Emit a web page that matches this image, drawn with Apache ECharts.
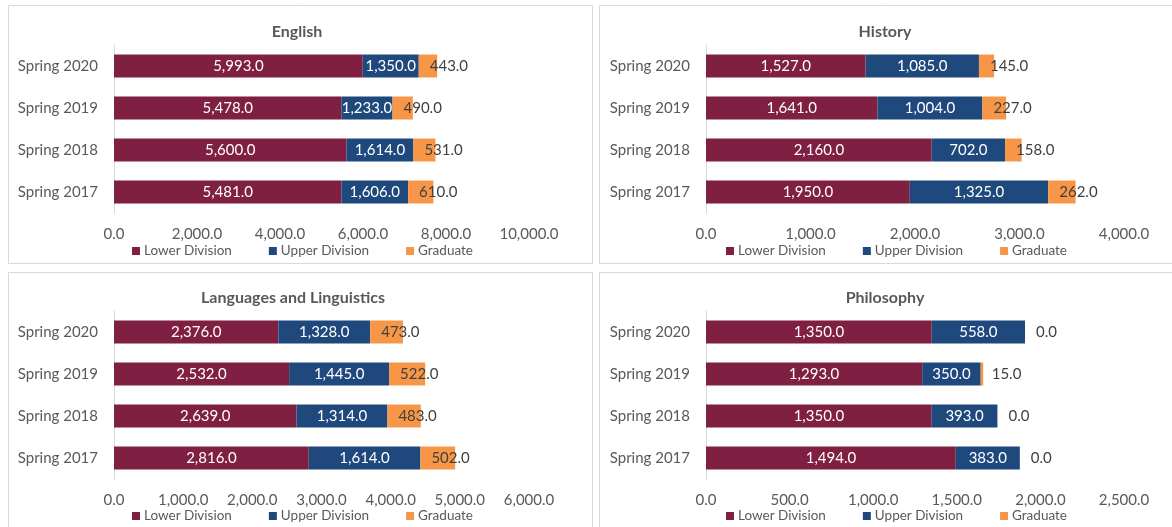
<!DOCTYPE html>
<html>
<head>
<meta charset="utf-8">
<script src="https://cdn.jsdelivr.net/npm/echarts@6/dist/echarts.min.js"></script>
<style>
  html, body { margin: 0; padding: 0; background: #ffffff; }
  #chart { width: 1172px; height: 527px; }
</style>
</head>
<body>
<div id="chart"></div>
<script>
// Enrollment by level, Spring 2017 - Spring 2020 (bottom to top)
const terms = ['Spring 2017', 'Spring 2018', 'Spring 2019', 'Spring 2020'];
const levels = ['Lower Division', 'Upper Division', 'Graduate'];

const englishLower = [5481, 5600, 5478, 5993];
const englishUpper = [1606, 1614, 1233, 1350];
const englishGrad  = [610, 531, 490, 443];

const historyLower = [1950, 2160, 1641, 1527];
const historyUpper = [1325, 702, 1004, 1085];
const historyGrad  = [262, 158, 227, 145];

const langLower = [2816, 2639, 2532, 2376];
const langUpper = [1614, 1314, 1445, 1328];
const langGrad  = [502, 483, 522, 473];

const philLower = [1494, 1350, 1293, 1350];
const philUpper = [383, 393, 350, 558];
const philGrad  = [0, 0, 15, 0];

const titles = ['English', 'History', 'Languages and Linguistics', 'Philosophy'];
const axisMax = [10000, 4000, 6000, 2500];
const axisStep = [2000, 1000, 1000, 500];

const panelData = [
  [englishLower, englishUpper, englishGrad],
  [historyLower, historyUpper, historyGrad],
  [langLower, langUpper, langGrad],
  [philLower, philUpper, philGrad]
];

const FONT = 'Lato, "Open Sans", sans-serif';
const TEXT = '#595959';
const COLORS = ['#7F1F42', '#1F497D', '#F79646'];

function fmt(v) {
  const neg = v < 0;
  const s = Math.abs(v).toFixed(1);
  let [i, d] = s.split('.');
  i = i.replace(/\B(?=(\d{3})+(?!\d))/g, ',');
  return (neg ? '-' : '') + i + '.' + d;
}

// panel frames and plot boxes
const panels = [
  { x: 8,   y: 5,   w: 584, h: 258, gl: 114, gt: 45,  gw: 415, titleX: 297, titleY: 24,  legX: 132, legY: 244 },
  { x: 599, y: 5,   w: 600, h: 258, gl: 706, gt: 45,  gw: 418, titleX: 885, titleY: 24,  legX: 726, legY: 244 },
  { x: 8,   y: 272, w: 584, h: 270, gl: 114, gt: 311, gw: 415, titleX: 293, titleY: 290, legX: 132, legY: 509 },
  { x: 599, y: 272, w: 600, h: 270, gl: 706, gt: 311, gw: 418, titleX: 885, titleY: 290, legX: 726, legY: 509 }
];

const grid = [], xAxis = [], yAxis = [], series = [], title = [], legend = [], graphic = [];

panels.forEach((p, k) => {
  graphic.push({
    type: 'rect', silent: true, z: -1,
    shape: { x: p.x + 0.5, y: p.y + 0.5, width: p.w, height: p.h },
    style: { fill: '#ffffff', stroke: '#D9D9D9', lineWidth: 1 }
  });
  title.push({
    text: titles[k], left: p.titleX, top: p.titleY, textAlign: 'center', padding: 0,
    textStyle: { fontFamily: FONT, fontSize: 16, fontWeight: 'bold', color: TEXT }
  });
  legend.push({
    data: levels, left: p.legX, top: p.legY, padding: 0, orient: 'horizontal',
    icon: 'rect', itemWidth: 8, itemHeight: 8, itemGap: 37, selectedMode: false,
    textStyle: { fontFamily: FONT, fontSize: 13.5, color: TEXT, padding: [0, 0, 0, -1] }
  });
  grid.push({ left: p.gl, top: p.gt, width: p.gw, height: 168, containLabel: false });
  xAxis.push({
    type: 'value', gridIndex: k, min: 0, max: axisMax[k], interval: axisStep[k],
    axisLine: { show: false }, axisTick: { show: false }, splitLine: { show: false },
    axisLabel: { fontFamily: FONT, fontSize: 15, color: TEXT, margin: 14, formatter: fmt }
  });
  yAxis.push({
    type: 'category', gridIndex: k, data: terms,
    axisLine: { show: true, lineStyle: { color: '#D9D9D9', width: 1 } },
    axisTick: { show: false },
    axisLabel: { fontFamily: FONT, fontSize: 15, color: TEXT, margin: 16 }
  });
  panelData[k].forEach((vals, s) => {
    const isGrad = s === 2;
    series.push({
      type: 'bar', name: levels[s], xAxisIndex: k, yAxisIndex: k, stack: 'p' + k,
      data: vals, barWidth: 23, itemStyle: { color: COLORS[s] },
      label: {
        show: true,
        position: isGrad ? 'insideLeft' : 'inside',
        distance: isGrad ? 11 : 5,
        color: isGrad ? '#404040' : '#ffffff',
        fontFamily: FONT, fontSize: 15,
        formatter: (d) => fmt(d.value)
      },
      labelLayout: { hideOverlap: false },
      emphasis: { disabled: true }
    });
  });
});

const chart = echarts.init(document.getElementById('chart'), null, { renderer: 'canvas' });
chart.setOption({
  backgroundColor: '#ffffff',
  animation: false,
  graphic, title, legend, grid, xAxis, yAxis, series
});
</script>
</body>
</html>
